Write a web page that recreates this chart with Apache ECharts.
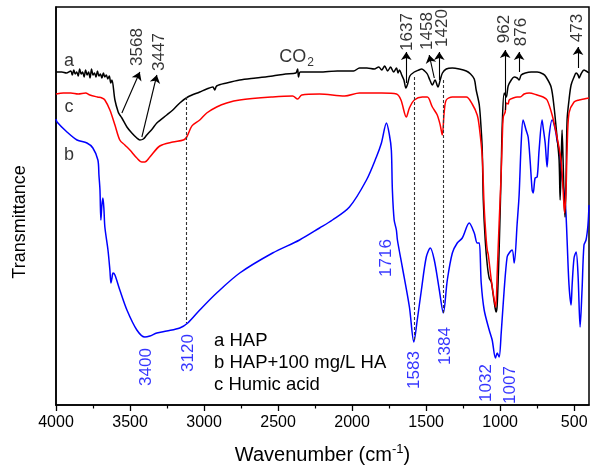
<!DOCTYPE html>
<html><head><meta charset="utf-8">
<script src="https://cdn.jsdelivr.net/npm/echarts@6/dist/echarts.min.js"></script>
<style>html,body{margin:0;padding:0;background:#fff}#c{width:590px;height:472px}</style>
</head><body><div id="c"></div>
<script>
const FONT = '"Liberation Sans", Arial, Helvetica, sans-serif';
const seriesNames = ['a HAP', 'b HAP+100 mg/L HA', 'c Humic acid'];

// [wavenumber (cm-1), transmittance (arbitrary units)]
const hapSpectrum = [[4000,333],[3960,333],[3930,332],[3900,334],[3890,330],[3880,335],[3870,331],[3860,333],[3850,329],[3840,336],[3830,331],[3820,333],[3810,328],[3800,335],[3790,330],[3780,333],[3770,327],[3760,336],[3750,330],[3740,332],[3730,328],[3720,334],[3710,329],[3700,331],[3690,327],[3680,332],[3670,328],[3660,330],[3650,326],[3640,329],[3630,322],[3622,325],[3602,305],[3580,293],[3569,290],[3555,287],[3521,278],[3488,272],[3454,267],[3434,265],[3410,266],[3387,270],[3350,276],[3319,282],[3252,290],[3211,295],[3164,302],[3110,308],[3029,313],[2982,316],[2940,318],[2928,315],[2915,319],[2847,322],[2759,325],[2650,327],[2537,329],[2450,331],[2380,332],[2368,336],[2362,328],[2350,333],[2300,333],[2220,333],[2100,334],[1990,334],[1950,337],[1900,337],[1850,336],[1820,338],[1800,335],[1780,339],[1760,334],[1740,338],[1720,333],[1700,337],[1690,332],[1680,335],[1665,330],[1650,325],[1637,317],[1625,321],[1610,329],[1580,333],[1550,335],[1530,336],[1510,334],[1492,331],[1475,325],[1458,320],[1440,325],[1420,318],[1405,325],[1390,332],[1364,336],[1323,337],[1276,336],[1229,334],[1200,331],[1175,326],[1162,315],[1141,300],[1128,275],[1121,255],[1114,205],[1101,165],[1087,140],[1074,127],[1060,123],[1047,110],[1034,97],[1027,93],[1020,100],[1007,155],[993,235],[986,280],[973,312],[959,308],[946,319],[925,325],[905,328],[885,327],[872,325],[858,330],[830,332],[791,333],[750,333],[710,331],[690,328],[656,318],[636,298],[616,268],[602,245],[595,205],[589,235],[582,275],[575,245],[568,205],[562,188],[555,225],[548,285],[535,305],[521,320],[501,328],[487,332],[474,330],[467,327],[454,331],[434,335],[420,334],[400,332]];

const hapHaSpectrum = [[4000,286],[3993,283],[3926,273],[3858,265],[3791,262],[3751,257],[3717,245],[3710,230],[3703,215],[3697,185],[3690,200],[3683,207],[3676,195],[3670,178],[3649,155],[3636,135],[3629,122],[3622,127],[3615,132],[3602,130],[3569,115],[3521,95],[3454,75],[3400,68],[3366,69],[3319,72],[3252,74],[3164,77],[3110,82],[3029,95],[2915,112],[2759,132],[2537,152],[2355,165],[2220,177],[2133,185],[2018,198],[1903,225],[1836,248],[1802,262],[1768,282],[1748,270],[1735,255],[1728,215],[1716,185],[1701,175],[1694,165],[1661,138],[1613,98],[1583,63],[1560,85],[1532,115],[1499,148],[1472,157],[1445,145],[1411,115],[1384,92],[1357,125],[1323,152],[1290,162],[1256,167],[1209,182],[1175,172],[1155,162],[1141,162],[1128,122],[1108,95],[1074,75],[1054,65],[1032,47],[1020,52],[1007,48],[993,72],[973,115],[953,148],[939,152],[919,155],[905,142],[885,182],[872,210],[858,262],[845,285],[825,275],[811,268],[798,245],[784,215],[777,212],[764,227],[750,228],[737,255],[717,285],[710,278],[696,262],[683,238],[670,268],[649,285],[630,277],[616,265],[602,255],[582,228],[562,205],[555,190],[548,165],[535,120],[521,100],[514,120],[501,147],[487,153],[474,130],[460,78],[447,115],[434,160],[420,165],[407,180],[400,200]];

const humicSpectrum = [[4000,311],[3950,312],[3900,312],[3850,311],[3800,312],[3771,310],[3720,308],[3690,307],[3670,305],[3636,295],[3602,280],[3569,265],[3535,260],[3501,255],[3454,247],[3420,243],[3400,243],[3366,248],[3299,259],[3211,263],[3140,265],[3117,268],[3090,277],[3076,280],[3029,285],[2982,292],[2915,298],[2847,302],[2759,305],[2537,308],[2402,309],[2368,306],[2340,310],[2220,311],[2050,309],[1950,312],[1800,312],[1700,311],[1670,305],[1634,288],[1613,297],[1580,305],[1526,308],[1492,308],[1458,298],[1425,290],[1405,280],[1391,270],[1378,293],[1364,305],[1323,308],[1229,308],[1189,301],[1155,290],[1141,278],[1121,248],[1108,198],[1094,165],[1087,155],[1080,150],[1060,125],[1040,105],[1030,98],[1020,132],[1007,182],[993,232],[986,265],[979,288],[966,293],[959,302],[946,301],[939,305],[912,307],[885,308],[865,308],[838,311],[804,312],[750,310],[710,308],[683,305],[649,290],[616,268],[589,245],[575,215],[565,192],[555,215],[548,255],[535,292],[501,303],[467,305],[434,306],[400,307]];

const xTickValues = [500, 1000, 1500, 2000, 2500, 3000, 3500, 4000];
const xMinorTickValues = [750, 1250, 1750, 2250, 2750, 3250, 3750];

// annotation anchors, in [wavenumber, transmittance]
const curveTags = [{text:'a', at:[3912,344]}, {text:'c', at:[3912,298]}, {text:'b', at:[3912,250]}];
const blackPeakTags = [
  {text:'3568', at:[3454,358]}, {text:'3447', at:[3299,353]},
  {text:'1637', at:[1627,373]}, {text:'1458', at:[1492,374]}, {text:'1420', at:[1391,377]},
  {text:'962', at:[970,376]}, {text:'876', at:[858,373]}, {text:'473', at:[481,377]}
];
const co2Tag = [{text:'CO2', at:[2375,348]}];
const peakArrows = [
  [[3555,292],[3434,333]], [[3420,268],[3319,330]],
  [[1634,322],[1634,353]], [[1445,327],[1479,350]], [[1411,325],[1411,353]],
  [[966,295],[966,355]], [[872,333],[872,353]], [[474,337],[474,358]]
];
const bluePeakTags = [
  {text:'3400', at:[3393,38]}, {text:'3120', at:[3103,52]}, {text:'1716', at:[1768,147]},
  {text:'1583', at:[1580,35]}, {text:'1384', at:[1371,59]}, {text:'1032', at:[1094,22]}, {text:'1007', at:[933,20]}
];
const dashedGuides = [[[3120,308],[3120,82]], [[1583,328],[1583,63]], [[1384,325],[1384,92]]];

const BLACK = '#000000', RED = '#ff0000', BLUE = '#0000ff';

function lineSeries(name, data, color, z) {
  return {name, type:'line', data, symbol:'none', showSymbol:false, smooth:0.3, z,
    lineStyle:{color, width:1.5}, itemStyle:{color}, emphasis:{disabled:true}, silent:true, animation:false};
}
function tagSeries(name, tags, color, rotate, size, extra) {
  return Object.assign({name, type:'scatter', silent:true, symbolSize:1, z:10, animation:false,
    itemStyle:{color:'rgba(0,0,0,0)'},
    data: tags.map(t => ({value:t.at, name:t.text})),
    label:{show:true, position:'inside', formatter:'{b}', rotate, color, fontSize:size, fontFamily:FONT}}, extra || {});
}

const chart = echarts.init(document.getElementById('c'), null, {renderer:'canvas'});
chart.setOption({
  backgroundColor:'#fff',
  animation:false,
  grid:{left:56, right:1, top:7, bottom:67, containLabel:false, outerBoundsMode:'none',
    show:true, borderColor:'#000', borderWidth:1.5, backgroundColor:'transparent'},
  legend:{data:seriesNames, orient:'vertical', left:209, top:331, padding:0, itemWidth:0, itemHeight:0, itemGap:3,
    icon:'rect', selectedMode:false, textStyle:{fontSize:18.5, color:'#000', fontFamily:FONT}},
  xAxis:[{
    type:'value', min:400, max:4000, inverse:true, position:'bottom',
    name:'{n|Wavenumber (cm}{s|-1}{n|)}', nameLocation:'middle', nameGap:38,
    nameTextStyle:{fontFamily:FONT, color:'#000', rich:{n:{fontSize:20, lineHeight:24, fontFamily:FONT, color:'#000'}, s:{fontSize:13, verticalAlign:'top', fontFamily:FONT, color:'#000'}}},
    axisLine:{show:true, lineStyle:{color:'#000', width:1.5}},
    axisTick:{show:true, inside:false, length:6, customValues:xTickValues, lineStyle:{color:'#000', width:1.3}},
    axisLabel:{show:true, customValues:xTickValues, margin:10, fontSize:16, color:'#000', fontFamily:FONT, formatter: v => String(v)},
    splitLine:{show:false}
  },{
    type:'value', min:400, max:4000, inverse:true, position:'bottom',
    axisLine:{show:false},
    axisTick:{show:true, inside:false, length:3.5, customValues:xMinorTickValues, lineStyle:{color:'#000', width:1.2}},
    axisLabel:{show:false}, splitLine:{show:false}
  }],
  yAxis:{
    type:'value', min:0, max:398,
    name:'Transmittance', nameLocation:'middle', nameGap:27,
    nameTextStyle:{fontSize:18, color:'#000', fontFamily:FONT, padding:[0,32,0,0]},
    axisLine:{show:true, lineStyle:{color:'#000', width:1.5}},
    axisTick:{show:false}, axisLabel:{show:false}, splitLine:{show:false}
  },
  series:[
    lineSeries(seriesNames[1], hapHaSpectrum, BLUE, 2),
    lineSeries(seriesNames[0], hapSpectrum, BLACK, 3),
    lineSeries(seriesNames[2], humicSpectrum, RED, 4),
    tagSeries('curveTags', curveTags, '#000', 0, 18),
    tagSeries('blackPeakTags', blackPeakTags, '#000', 90, 17, {
      markLine:{silent:true, animation:false, symbol:['none','arrow'], symbolSize:8, label:{show:false},
        lineStyle:{color:'#000', width:1.1, type:'solid'}, emphasis:{disabled:true},
        data: peakArrows.map(p => [{coord:p[0]}, {coord:p[1]}])}
    }),
    tagSeries('co2Tag', co2Tag, '#000', 0, 18, {
      label:{show:true, position:'inside', formatter:'{n|CO}{s|2}', color:'#000', fontFamily:FONT,
        rich:{n:{fontSize:18, lineHeight:24, color:'#000', fontFamily:FONT}, s:{fontSize:12, verticalAlign:'bottom', color:'#000', fontFamily:FONT, padding:[0,0,0,1]}}}
    }),
    tagSeries('bluePeakTags', bluePeakTags, BLUE, 90, 17, {
      markLine:{silent:true, animation:false, symbol:['none','none'], label:{show:false},
        lineStyle:{color:'#333', width:1.1, type:[3,2]}, emphasis:{disabled:true},
        data: dashedGuides.map(p => [{coord:p[0]}, {coord:p[1]}])}
    })
  ]
});
</script></body></html>
